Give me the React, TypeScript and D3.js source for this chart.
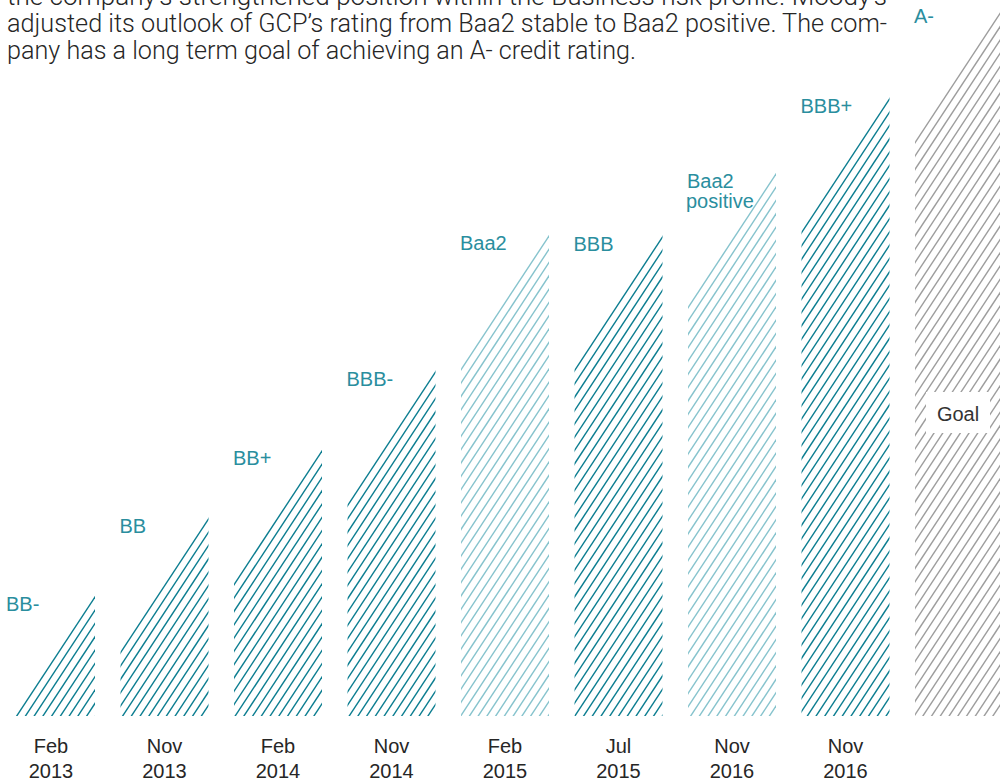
import React from "react";
import * as d3 from "d3";

// ---- data ----
const headerLines = [
  "the company’s strengthened position within the Business risk profile. Moody’s",
  "adjusted its outlook of GCP’s rating from Baa2 stable to Baa2 positive. The com-",
  "pany has a long term goal of achieving an A- credit rating.",
];
const months = ["Feb", "Nov", "Feb", "Nov", "Feb", "Jul", "Nov", "Nov", ""];
const years = ["2013", "2013", "2014", "2014", "2015", "2015", "2016", "2016", ""];
const ratings = ["BB-", "BB", "BB+", "BBB-", "Baa2", "BBB", "Baa2\npositive", "BBB+", "A-"];
const scores = [119, 197, 265, 344, 480, 479, 542, 617, 707];
const agencies = ["S&P", "S&P", "S&P", "S&P", "Moody's", "S&P", "Moody's", "S&P", "Goal"];
const goalLabel = "Goal";

// ---- styles ----
const W = 1000;
const H = 780;
const BASE = 716;
const colorByAgency: Record<string, string> = {
  "S&P": "#0b7d90",
  "Moody's": "#86c3cd",
  Goal: "#9d9d9d",
};
const labelColor = "#2a8e9e";
const textColor = "#262626";
const SLOPE = 1.52;
const HATCH_DY = 13.3;
const LIGHT = "Roboto, 'Liberation Sans', Arial, sans-serif";
const SANS = "'Liberation Sans', Arial, sans-serif";

export default function App() {
  const idx = d3.range(scores.length);
  const x = d3
    .scaleBand<number>()
    .domain(idx)
    .range([7, 1003])
    .paddingInner(0.2247)
    .paddingOuter(0);
  const y = d3.scaleLinear().domain([0, BASE]).range([BASE, 0]);
  const bw = x.bandwidth();
  const rise = bw * SLOPE;
  const line = d3.line<[number, number]>();

  return (
    <svg
      width={W}
      height={H}
      style={{ position: "absolute", left: 0, top: 0, display: "block", background: "#fff" }}
      fontFamily={SANS}
    >
      <defs>
        {idx.map((i) => (
          <clipPath id={`clip-${i}`} key={i}>
            <rect x={x(i)!} y={0} width={bw} height={BASE} />
          </clipPath>
        ))}
      </defs>

      {/* header paragraph */}
      {headerLines.map((t, i) => (
        <text
          key={i}
          x={7}
          y={5 + i * 27}
          fontSize={26}
          fontFamily={LIGHT}
          fontWeight={300}
          fill={textColor}
          textLength={i < 2 ? 880 : 629}
          lengthAdjust="spacingAndGlyphs"
        >
          {t}
        </text>
      ))}

      {/* hatched bars */}
      {idx.map((i) => {
        const xl = x(i)!;
        const xr = xl + bw;
        const yr = y(scores[i]);
        const yl = yr + rise;
        const n = Math.ceil((BASE - yr) / HATCH_DY) + 1;
        const col = colorByAgency[agencies[i]];
        return (
          <g key={i} clipPath={`url(#clip-${i})`}>
            {d3.range(n).map((k) => (
              <path
                key={k}
                d={line([
                  [xl - 2, yl + k * HATCH_DY + 2 * SLOPE],
                  [xr + 2, yr + k * HATCH_DY - 2 * SLOPE],
                ])!}
                stroke={col}
                strokeWidth={1.4}
                fill="none"
              />
            ))}
          </g>
        );
      })}

      {/* rating labels */}
      {idx.map((i) => {
        const yr = y(scores[i]);
        const parts = ratings[i].split("\n");
        return (
          <text key={i} x={x(i)! + 1} y={yr + 14} fontSize={20} fill={labelColor}>
            {parts.map((p, j) => (
              <tspan key={j} x={x(i)! + (j === 0 ? -1 : -2)} dy={j === 0 ? 0 : 20}>
                {p}
              </tspan>
            ))}
          </text>
        );
      })}

      {/* goal label box */}
      {idx
        .filter((i) => agencies[i] === "Goal")
        .map((i) => {
          const cx = x(i)! + bw / 2 - 1;
          return (
            <g key={i}>
              <rect x={cx - 32} y={392} width={64} height={41} fill="#fff" />
              <text x={cx} y={421} fontSize={20} fill="#333" textAnchor="middle">
                {goalLabel}
              </text>
            </g>
          );
        })}

      {/* x-axis labels */}
      {idx.map((i) => (
        <text key={i} x={x(i)! + bw / 2} fontSize={20} fill={textColor} textAnchor="middle">
          <tspan x={x(i)! + bw / 2} y={753}>
            {months[i]}
          </tspan>
          <tspan x={x(i)! + bw / 2} y={778}>
            {years[i]}
          </tspan>
        </text>
      ))}
    </svg>
  );
}
